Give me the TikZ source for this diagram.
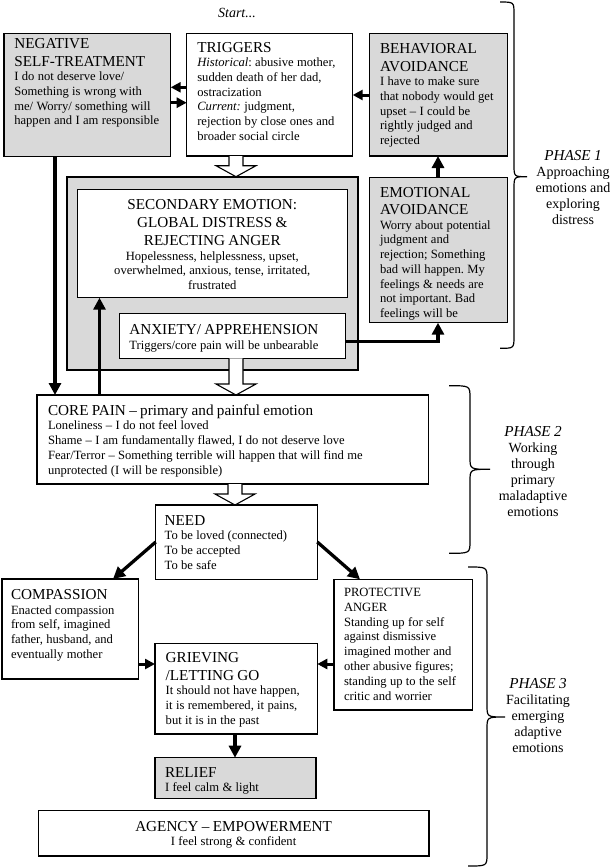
\documentclass[tikz,border=0pt]{standalone}
\usepackage{fontspec}
\setmainfont{Liberation Serif}
\usetikzlibrary{arrows.meta,calc}
\definecolor{boxgray}{RGB}{217,217,217}
\newcommand\hd{\fontsize{15.2}{18}\selectfont}
\newcommand\hdb{\fontsize{15.2}{17.5}\selectfont}
\newcommand\bd{\fontsize{12.6}{14.7}\selectfont}
\newcommand\fst{\rule{0pt}{12pt}}
\newcommand\holarrow[2]{\draw[hol] let \p1=(#1), \p2=(#2) in (\x1-7pt,\y1) -- (\x1-7pt,\y2+11pt) -- (\x1-20pt,\y2+11pt) -- (\x1,\y2) -- (\x1+20pt,\y2+11pt) -- (\x1+7pt,\y2+11pt) -- (\x1+7pt,\y1);}
\begin{document}
\frenchspacing
\begin{tikzpicture}[x=1pt,y=-1pt,
 box/.style={draw=black, line width=1.2pt, anchor=north west, inner sep=0pt, outer sep=0pt},
 gbox/.style={box, fill=boxgray},
 wbox/.style={box, fill=white},
 txt/.style={anchor=north west, inner sep=0pt, outer sep=0pt, align=left},
 ctxt/.style={anchor=north, inner sep=0pt, outer sep=0pt, align=center},
 arr/.style={line width=3.3pt, -{Triangle[length=12pt,width=12pt]}},
 sarr/.style={line width=3pt, -{Triangle[length=10pt,width=10pt]}},
 hol/.style={draw=black, line width=1.1pt, fill=white, line join=miter},
 brace/.style={draw=black, line width=1.2pt},
 phase/.style={ctxt, text width=90pt}
]
\useasboundingbox (0,0) rectangle (610,868);
\fill[white] (0,0) rectangle (610,868);

% start
\node[anchor=base, inner sep=0pt, font=\fontsize{14}{16}\selectfont\itshape] (start) at (237,17) {Start...};

% boxes
\node[gbox, minimum width=166.7pt, minimum height=123.4pt] (neg) at (4,33.3) {};
\node[wbox, minimum width=166pt, minimum height=122.7pt] (trig) at (186.7,33.3) {};
\node[gbox, minimum width=138pt, minimum height=122.7pt] (beh) at (369.3,33.3) {};
\node[gbox, minimum width=138pt, minimum height=145.4pt] (emo) at (369.3,177.3) {};
\node[gbox, line width=1.8pt, minimum width=291pt, minimum height=193.3pt] (outer) at (67.3,176.7) {};
\node[wbox, minimum width=270pt, minimum height=108.4pt] (sec) at (77.3,189.3) {};
\node[wbox, minimum width=226.4pt, minimum height=45pt] (anx) at (119.3,313.3) {};
\node[wbox, minimum width=391.3pt, minimum height=89pt] (core) at (37,395) {};
\node[wbox, minimum width=161.6pt, minimum height=74.5pt] (need) at (155.7,505) {};
\node[wbox, minimum width=136.3pt, minimum height=100pt] (comp) at (2,579) {};
\node[wbox, minimum width=138.7pt, minimum height=130.7pt] (prot) at (334,579.3) {};
\node[wbox, minimum width=162.3pt, minimum height=90.7pt] (grief) at (155,643.3) {};
\node[gbox, minimum width=161pt, minimum height=41pt] (relief) at (155,757.7) {};
\node[wbox, minimum width=390.7pt, minimum height=45.3pt] (agency) at (38.3,810.7) {};

% texts
\node[txt, text width=160pt] (negT) at (14.3,36) {\hd\fst NEGATIVE\\SELF-TREATMENT\par\bd I do not deserve love/\\Something is wrong with\\me/ Worry/ something will\\happen and I am responsible\par};
\node[txt, text width=155pt] (trigT) at (197.3,40) {\hd\fst TRIGGERS\par\bd\textit{Historical}: abusive mother,\\sudden death of her dad,\\ostracization\\\textit{Current:} judgment,\\rejection by close ones and\\broader social circle\par};
\node[txt, text width=128pt] (behT) at (380,41.5) {\hdb\fst BEHAVIORAL\\AVOIDANCE\par\bd I have to make sure\\that nobody would get\\upset – I could be\\rightly judged and\\rejected\par};
\node[txt, text width=128pt] (emoT) at (380,185) {\hdb\fst EMOTIONAL\\AVOIDANCE\par\bd Worry about potential\\judgment and\\rejection; Something\\bad will happen. My\\feelings \& needs are\\not important. Bad\\feelings will be\par};
\node[ctxt, text width=262pt] (secT) at (212.3,197.5) {\hd\fst SECONDARY EMOTION:\\GLOBAL DISTRESS \&\\REJECTING ANGER\par\bd Hopelessness, helplessness, upset,\\overwhelmed, anxious, tense, irritated,\\frustrated\par};
\node[txt, text width=215pt] (anxT) at (129.3,322.5) {\hd\fst ANXIETY/ APPREHENSION\par\bd Triggers/core pain will be unbearable\par};
\node[txt, text width=375pt] (coreT) at (48,403) {\hd\fst CORE PAIN – primary and painful emotion\par\fontsize{12.6}{14.8}\selectfont Loneliness – I do not feel loved\\Shame – I am fundamentally flawed, I do not deserve love\\Fear/Terror – Something terrible will happen that will find me\\unprotected (I will be responsible)\par};
\node[txt, text width=150pt] (needT) at (164.7,513) {\hd\fst NEED\par\bd To be loved (connected)\\To be accepted\\To be safe\par};
\node[txt, text width=126pt] (compT) at (11,587.5) {\hd\fst COMPASSION\par\bd Enacted compassion\\from self, imagined\\father, husband, and\\eventually mother\par};
\node[txt, text width=128pt] (protT) at (344,584.5) {\fontsize{12.6}{14.8}\selectfont\fst PROTECTIVE\\ANGER\\Standing up for self\\against dismissive\\imagined mother and\\other abusive figures;\\standing up to the self\\critic and worrier\par};
\node[txt, text width=150pt] (griefT) at (165.7,650) {\hd\fst GRIEVING\\/LETTING GO\par\bd It should not have happen,\\it is remembered, it pains,\\but it is in the past\par};
\node[txt, text width=150pt] (reliefT) at (165,765) {\hd\fst RELIEF\par\bd I feel calm \& light\par};
\node[ctxt, text width=380pt] (agencyT) at (233.6,819) {\hd\fst AGENCY – EMPOWERMENT\par\bd I feel strong \& confident\par};

% phase labels
\node[phase] (ph1) at (573,148) {\fontsize{15.2}{15.5}\selectfont\itshape\fst PHASE 1\par\upshape\fontsize{14}{16}\selectfont Approaching\\emotions and\\exploring\\distress\par};
\node[phase] (ph2) at (533,424) {\fontsize{15.2}{15.5}\selectfont\itshape\fst PHASE 2\par\upshape\fontsize{14}{16}\selectfont Working\\through\\primary\\maladaptive\\emotions\par};
\node[phase] (ph3) at (538,676) {\fontsize{15.2}{15.5}\selectfont\itshape\fst PHASE 3\par\upshape\fontsize{14}{16}\selectfont Facilitating\\emerging\\adaptive\\emotions\par};

% braces
\draw[brace] (500,2) .. controls (514,2) and (514,2) .. (514,14) -- (514,164.7) .. controls (514,176.7) and (514,176.7) .. (527,176.7) .. controls (514,176.7) and (514,176.7) .. (514,188.7) -- (514,336.3) .. controls (514,348.3) and (514,348.3) .. (500,348.3);
\draw[brace] (449,385.7) .. controls (470,385.7) and (470,385.7) .. (470,398) -- (470,457.3) .. controls (470,469.3) and (470,469.3) .. (490,469.3) .. controls (470,469.3) and (470,469.3) .. (470,481.3) -- (470,541) .. controls (470,553.3) and (470,553.3) .. (449,553.3);
\draw[brace] (468,567) .. controls (487,567) and (487,567) .. (487,579) -- (487,705) .. controls (487,717) and (487,717) .. (505,717) .. controls (487,717) and (487,717) .. (487,729) -- (487,854) .. controls (487,866) and (487,866) .. (468,866);

% helper coordinates
\coordinate (r873) at (0,87.3);
\coordinate (r1027) at (0,102.7);
\coordinate (r95) at (0,95);
\coordinate (c438) at (438,0);
\coordinate (r3417) at (0,341.7);
\coordinate (c55) at (55,0);
\coordinate (c995) at (99.5,0);
\coordinate (r542) at (0,542);
\coordinate (c113) at (113,0);
\coordinate (c360) at (360,0);
\coordinate (r664) at (0,664);
\coordinate (c235) at (235,0);
\coordinate (hx) at (236,0);

% hollow arrows
\holarrow{trig.south -| hx}{outer.north -| hx}
\holarrow{anx.south -| hx}{core.north -| hx}
\holarrow{core.south -| c235}{need.north -| c235}

% solid arrows
\draw[sarr] (trig.west |- r873) -- (neg.east |- r873);
\draw[sarr] (neg.east |- r1027) -- (trig.west |- r1027);
\draw[sarr] (beh.west |- r95) -- (trig.east |- r95);
\draw[arr] (emo.north -| c438) -- (beh.south -| c438);
\draw[arr] (anx.east |- r3417) -| (emo.south -| c438);
\draw[arr] (neg.south -| c55) -- (core.north -| c55);
\draw[arr] (core.north -| c995) -- (sec.south -| c995);
\draw[arr] (need.west |- r542) -- (comp.north -| c113);
\draw[arr] (need.east |- r542) -- (prot.north -| c360);
\draw[sarr] (comp.east |- r664) -- (grief.west |- r664);
\draw[sarr] (prot.west |- r664) -- (grief.east |- r664);
\draw[arr] (grief.south -| c235) -- (relief.north -| c235);
\end{tikzpicture}
\end{document}
